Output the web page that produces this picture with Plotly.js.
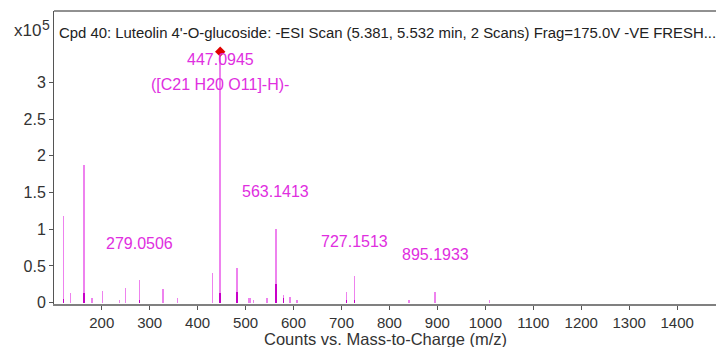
<!DOCTYPE html>
<html>
<head>
<meta charset="utf-8">
<script src="https://cdn.plot.ly/plotly-3.0.1.min.js"></script>
<style>html,body{margin:0;padding:0;background:#fff;}#chart{width:716px;height:347px;}</style>
</head>
<body>
<div id="chart"></div>
<script>
// Peak m/z values and intensities (x10^5 counts)
const peakMz = [120, 135, 163.5, 179.5, 202, 237.5, 249.5, 279.05, 327.5, 357.5, 431, 447.09, 482, 507.5, 510.5, 517, 544.5, 563.14, 579, 593, 607, 710, 727.15, 840.5, 895.19, 1009];
const peakInt = [1.18, 0.13, 1.876, 0.06, 0.16, 0.03, 0.205, 0.31, 0.187, 0.06, 0.40, 3.42, 0.47, 0.06, 0.07, 0.04, 0.06, 1.00, 0.10, 0.08, 0.03, 0.15, 0.364, 0.04, 0.15, 0.03];
// Darker base segments of some peaks
const baseMz = [120, 163.5, 279.05, 447.09, 482, 563.14, 579, 710, 727.15];
const baseInt = [0.05, 0.13, 0.03, 0.13, 0.14, 0.26, 0.06, 0.03, 0.03];
// Precursor marker
const precMz = [447.09];
const precInt = [3.42];
// Peak labels
const labelText = ["447.0945", "([C21 H20 O11]-H)-", "563.1413", "279.0506", "727.1513", "895.1933"];
const labelMz = [447.09, 447.09, 563.14, 279.05, 727.15, 895.19];
const labelY = [3.31, 2.97, 1.515, 0.81, 0.84, 0.65];
const yTickVals = [0, 0.5, 1, 1.5, 2, 2.5, 3];
const yTickText = ["0", "0.5", "1", "1.5", "2", "2.5", "3"];
const titleText = "Cpd 40: Luteolin 4'-O-glucoside: -ESI Scan (5.381, 5.532 min, 2 Scans) Frag=175.0V -VE FRESH...";
const xTitle = "Counts vs. Mass-to-Charge (m/z)";

const FONT = "Liberation Sans, Arial, sans-serif";

const traces = [
  {type: 'bar', x: peakMz, y: peakInt, width: 3, marker: {color: '#ee82ee', line: {width: 0}}, hoverinfo: 'x+y'},
  {type: 'bar', x: baseMz, y: baseInt, width: 3, marker: {color: '#c800c8', line: {width: 0}}, hoverinfo: 'x+y'},
  {type: 'scatter', mode: 'markers', x: precMz, y: precInt, marker: {symbol: 'diamond', color: '#e00000', size: 8}, hoverinfo: 'x+y'}
];

const annotations = labelText.map((t, i) => ({
  text: t, x: labelMz[i], y: labelY[i], xref: 'x', yref: 'y',
  xanchor: 'center', yanchor: 'middle', showarrow: false,
  font: {family: FONT, size: 16, color: '#e02ee0'}
}));
annotations.push({text: titleText, xref: 'paper', yref: 'paper', x: 0.004, y: 0.925, xanchor: 'left', yanchor: 'middle', showarrow: false, font: {family: FONT, size: 14.9, color: '#222'}});
annotations.push({text: 'x10', xref: 'paper', yref: 'paper', x: -0.04, y: 0.932, xanchor: 'center', yanchor: 'middle', showarrow: false, font: {family: FONT, size: 17, color: '#333'}});
annotations.push({text: '5', xref: 'paper', yref: 'paper', x: -0.0115, y: 0.952, xanchor: 'center', yanchor: 'middle', showarrow: false, font: {family: FONT, size: 14, color: '#333'}});
annotations.push({text: xTitle, xref: 'paper', yref: 'paper', x: 0.5, y: -0.118, xanchor: 'center', yanchor: 'middle', showarrow: false, font: {family: FONT, size: 16.5, color: '#333'}});

const layout = {
  width: 716, height: 347,
  margin: {l: 54, r: 0, t: 11, b: 43, pad: 0},
  paper_bgcolor: '#fff', plot_bgcolor: '#fff',
  showlegend: false, barmode: 'overlay', bargap: 0,
  font: {family: FONT, size: 16, color: '#333'},
  xaxis: {
    range: [100.5, 1481], tick0: 0, dtick: 100, showgrid: false, zeroline: false,
    showline: true, linecolor: '#808080', linewidth: 2,
    ticks: 'outside', ticklen: 4, tickcolor: '#555', tickwidth: 1,
    tickfont: {family: FONT, size: 15, color: '#333'}
  },
  yaxis: {
    range: [-0.018, 3.974], tickvals: yTickVals, ticktext: yTickText,
    showgrid: false, zeroline: false,
    showline: true, linecolor: '#555', linewidth: 1,
    ticks: 'outside', ticklen: 4, tickcolor: '#555', tickwidth: 1,
    tickfont: {family: FONT, size: 16, color: '#333'}
  },
  shapes: [
    {type: 'line', xref: 'paper', yref: 'paper', x0: 0, x1: 1, y0: 1, y1: 1, line: {color: '#222', width: 1}}
  ],
  annotations: annotations
};

Plotly.newPlot('chart', traces, layout, {displayModeBar: false, staticPlot: true});
</script>
</body>
</html>
